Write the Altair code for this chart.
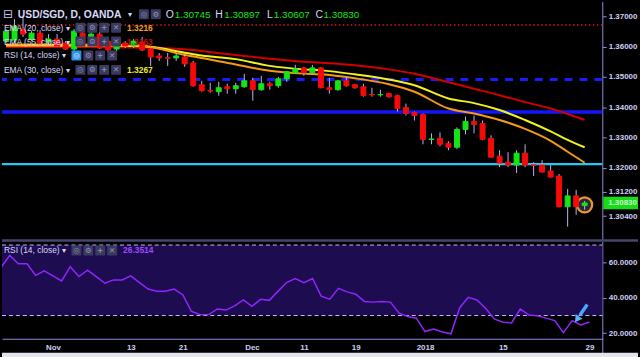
import altair as alt
import pandas as pd

# ---------------- data ----------------
opens = [1.36180, 1.36213, 1.36574, 1.36246, 1.36443, 1.36147, 1.36246, 1.36115, 1.35918, 1.36443,
         1.36082, 1.36410, 1.36180, 1.35918, 1.36115, 1.36016, 1.36147, 1.35918, 1.35689, 1.35630,
         1.35623, 1.35656, 1.35459, 1.34738, 1.34545, 1.34508, 1.34672, 1.34607, 1.34672, 1.34869,
         1.34574, 1.34770, 1.34705, 1.34934, 1.35131, 1.35295, 1.35131, 1.35295, 1.34639, 1.34574,
         1.34869, 1.34738, 1.34672, 1.34415, 1.34405, 1.34443, 1.34377, 1.33984, 1.33820, 1.33754,
         1.32930, 1.32967, 1.32803, 1.32672, 1.33262, 1.33525, 1.33459, 1.32967, 1.32377, 1.32180,
         1.32082, 1.32475, 1.32090, 1.32082, 1.31885, 1.31721, 1.30705, 1.31065, 1.30745]
closes = [1.36508, 1.36672, 1.36410, 1.36443, 1.36115, 1.36246, 1.36016, 1.35918, 1.36508, 1.36082,
          1.36410, 1.35951, 1.35885, 1.36082, 1.36016, 1.36180, 1.35885, 1.35656, 1.35623, 1.35610,
          1.35689, 1.35426, 1.34705, 1.34541, 1.34530, 1.34639, 1.34607, 1.34705, 1.34869, 1.34574,
          1.34770, 1.34705, 1.34934, 1.35164, 1.35262, 1.35131, 1.35295, 1.34639, 1.34574, 1.34869,
          1.34705, 1.34639, 1.34377, 1.34405, 1.34415, 1.34344, 1.33951, 1.33787, 1.33721, 1.32934,
          1.32945, 1.32770, 1.32672, 1.33262, 1.33525, 1.33426, 1.32934, 1.32344, 1.32148, 1.32082,
          1.32475, 1.32082, 1.32075, 1.31852, 1.31688, 1.30705, 1.31065, 1.30705, 1.30830]
highs = [1.36574, 1.36902, 1.37033, 1.36508, 1.36541, 1.36410, 1.36410, 1.36180, 1.36574, 1.36574,
         1.36508, 1.36475, 1.36246, 1.36147, 1.36180, 1.36246, 1.36312, 1.35951, 1.35787, 1.35787,
         1.35787, 1.35754, 1.35525, 1.34869, 1.34803, 1.34836, 1.34770, 1.34803, 1.35098, 1.34967,
         1.35033, 1.34836, 1.35000, 1.35197, 1.35393, 1.35328, 1.35393, 1.35328, 1.34967, 1.34880,
         1.35000, 1.34770, 1.34770, 1.34639, 1.34574, 1.34475, 1.34410, 1.34115, 1.33852, 1.33787,
         1.33131, 1.33164, 1.32869, 1.33328, 1.33688, 1.33721, 1.33557, 1.33066, 1.32574, 1.32508,
         1.32574, 1.32770, 1.32180, 1.32246, 1.32082, 1.31787, 1.31295, 1.31262, 1.30897]
lows = [1.36115, 1.36115, 1.36312, 1.36180, 1.36049, 1.36049, 1.35984, 1.35885, 1.35852, 1.36016,
        1.36016, 1.35918, 1.35820, 1.35820, 1.35951, 1.35951, 1.35852, 1.35361, 1.35525, 1.35361,
        1.35525, 1.35328, 1.34672, 1.34508, 1.34475, 1.34377, 1.34443, 1.34443, 1.34639, 1.34213,
        1.34541, 1.34574, 1.34639, 1.34836, 1.35110, 1.35033, 1.35066, 1.34620, 1.34443, 1.34541,
        1.34672, 1.34607, 1.34344, 1.34344, 1.34344, 1.34311, 1.33852, 1.33721, 1.33557, 1.32770,
        1.32770, 1.32705, 1.32574, 1.32607, 1.33098, 1.33131, 1.32902, 1.32330, 1.32016, 1.32016,
        1.31820, 1.32016, 1.31721, 1.31840, 1.31670, 1.30690, 1.30049, 1.30443, 1.30607]

rsi = [57.2, 64.1, 59.4, 59.4, 52.8, 55.3, 52.5, 49.6, 57.7, 52.1,
       55.7, 52.1, 48.3, 50.2, 50.2, 52.5, 48.7, 45.0, 43.8, 43.8,
       45.0, 41.8, 32.4, 30.5, 30.5, 33.7, 33.1, 35.5, 38.9, 35.2,
       39.2, 38.6, 43.7, 48.7, 51.0, 48.7, 51.0, 41.0, 39.3, 45.4,
       43.4, 42.1, 38.0, 37.6, 38.0, 37.6, 31.3, 29.4, 28.5, 20.9,
       22.3, 20.6, 19.6, 34.3, 40.3, 38.8, 34.1, 28.1, 26.2, 25.8,
       33.7, 30.3, 29.9, 28.5, 27.1, 20.2, 27.1, 24.7, 26.35]

ema_idx = [0, 7, 15, 17, 21, 23, 27, 31, 35, 37, 41, 45, 48, 52, 55, 58, 61, 64, 66, 68]
ema20 = [1.36066, 1.36066, 1.36049, 1.35984, 1.35721, 1.35623, 1.35410, 1.35197, 1.35105, 1.35082,
         1.34951, 1.34754, 1.34508, 1.33951, 1.33787, 1.33574, 1.33279, 1.32886, 1.32525, 1.32161]
ema30 = [1.36033, 1.36033, 1.36016, 1.35990, 1.35797, 1.35705, 1.35584, 1.35361, 1.35246, 1.35213,
         1.35082, 1.34911, 1.34721, 1.34285, 1.34131, 1.33902, 1.33574, 1.33197, 1.32918, 1.32672]
ema55 = [1.35984, 1.35984, 1.35967, 1.35957, 1.35911, 1.35852, 1.35718, 1.35600, 1.35498, 1.35465,
         1.35383, 1.35246, 1.35098, 1.34819, 1.34606, 1.34393, 1.34163, 1.33951, 1.33770, 1.33574]

level_red_dotted = 1.3671
level_blue_dashed = 1.3491
level_blue_solid = 1.33836
level_cyan = 1.32115

price_ticks = [1.304, 1.312, 1.32, 1.33, 1.34, 1.35, 1.36, 1.37]
rsi_ticks = [20, 40, 60]
rsi_band = [30, 70]
time_tick_idx = [6, 15, 21, 29, 35, 41, 49, 58, 68]
time_tick_labels = ["Nov", "13", "21", "Dec", "11", "19", "2018", "15", "29"]
last_ohlc = ["1.30745", "1.30897", "1.30607", "1.30830"]
last_close = 1.30830
legend_values = {"ema20": "1.3216", "ema55": "1.3363", "ema30": "1.3267", "rsi": "26.3514"}

# ---------------- styling ----------------
W, H1, H2 = 605, 240, 98
GREEN, RED, WICK = "#14e614", "#f50a0a", "#b4b4f0"
AX, LAB = "#8c8cdc", "#cfcff5"
FONT = "Liberation Sans"

xs = alt.Scale(domain=[0.11, 69.49], nice=False, zero=False)
ys = alt.Scale(domain=[1.29623, 1.374918], nice=False, zero=False)
rs = alt.Scale(domain=[16.8, 72.0], nice=False, zero=False)

price_axis = alt.Axis(orient="right", values=price_ticks, format=".5f", grid=False, title=None,
                      labelColor=LAB, labelFontSize=8, labelFontWeight="bold", labelFont=FONT,
                      tickColor=AX, tickSize=4, domainColor=AX, labelPadding=2,
                      labelOverlap=False, labelFlush=False)
rsi_axis = alt.Axis(orient="right", values=rsi_ticks, format=".4f", grid=False, title=None,
                    labelColor=LAB, labelFontSize=8, labelFontWeight="bold", labelFont=FONT,
                    tickColor=AX, tickSize=4, domainColor=AX, labelPadding=2,
                    labelOverlap=False, labelFlush=False)
idx_arr = "[" + ",".join(str(v) for v in time_tick_idx) + "]"
lab_arr = "[" + ",".join("'" + s + "'" for s in time_tick_labels) + "]"
time_axis = alt.Axis(orient="bottom", values=time_tick_idx, labelExpr=f"{lab_arr}[indexof({idx_arr}, datum.value)]",
                     grid=False, ticks=False, title=None, domainColor=AX, labelColor=LAB,
                     labelFontSize=8, labelFontWeight="bold", labelFont=FONT, labelPadding=5,
                     labelOverlap=False, labelFlush=False)


def PX(axis=None):
    return alt.X("idx:Q", scale=xs, axis=axis)


def PY(field):
    return alt.Y(field, scale=ys, axis=price_axis)


one = pd.DataFrame({"k": [0]})


def txt(s, x, y, color, size=8.5, weight="normal", align="left", font=FONT):
    return alt.Chart(one).mark_text(text=s, align=align, baseline="middle", fontSize=size,
                                    fontWeight=weight, color=color, font=font).encode(
        x=alt.value(x), y=alt.value(y))


def box(x0, y0, w, h, fill):
    return alt.Chart(one).mark_rect(color=fill, cornerRadius=1).encode(
        x=alt.value(x0), x2=alt.value(x0 + w), y=alt.value(y0), y2=alt.value(y0 + h))


def icons(x0, yc, step=12, highlight=False):
    out = []
    glyphs = ["◎", "⚙", "+", "✕"]
    for j, g in enumerate(glyphs):
        fill = "#2f8fe6" if (highlight and j == 0) else "#3a3a5e"
        col = "#e8f4ff" if (highlight and j == 0) else "#9090b8"
        out.append(box(x0 + j * step, yc - 5, 10, 10, fill))
        out.append(txt(g, x0 + j * step + 5, yc + 0.5, col, size=7.5, weight="bold",
                       align="center", font="DejaVu Sans"))
    return out


# ---------------- price panel ----------------
cdf = pd.DataFrame({"idx": list(range(len(opens))), "o": opens, "h": highs, "l": lows, "c": closes})
edf = pd.DataFrame({"idx": ema_idx, "e20": ema20, "e30": ema30, "e55": ema55})

levels = []
for val, col, w, dash in [(level_red_dotted, "#d01818", 1.5, [1.5, 2.5]),
                          (level_blue_dashed, "#1a1aff", 3, [8, 7]),
                          (level_blue_solid, "#1018f5", 3.5, None),
                          (level_cyan, "#22c8f2", 2.2, None)]:
    kw = dict(color=col, strokeWidth=w)
    if dash:
        kw["strokeDash"] = dash
    levels.append(alt.Chart(pd.DataFrame({"v": [val]})).mark_rule(**kw).encode(y=PY("v:Q")))

ema_layers = []
for f, col in [("e55", "#d00000"), ("e30", "#f2f21e"), ("e20", "#f59a14")]:
    ema_layers.append(alt.Chart(edf).mark_line(color=col, strokeWidth=2, clip=True,
                                               interpolate="monotone").encode(x=PX(), y=PY(f + ":Q")))

circle = alt.Chart(pd.DataFrame({"idx": [68], "v": [1.30770]})).mark_point(
    shape="circle", size=230, filled=False, stroke="#e89a2c", strokeWidth=2.2,
    fill="#3a3a55", fillOpacity=0.7).encode(x=PX(), y=PY("v:Q"))

wicks = alt.Chart(cdf).mark_rule(color=WICK, strokeWidth=1, clip=True).encode(
    x=PX(), y=PY("h:Q"), y2="l:Q")
bodies = alt.Chart(cdf).mark_bar(size=5, strokeWidth=1, clip=True).encode(
    x=PX(), y=PY("o:Q"), y2="c:Q",
    color=alt.condition("datum.c >= datum.o", alt.value(GREEN), alt.value(RED)),
    stroke=alt.condition("datum.c >= datum.o", alt.value(GREEN), alt.value(RED)))

lc = pd.DataFrame({"c": [last_close]})
price_box = alt.Chart(lc).transform_calculate(t="datum.c + 0.0021", b="datum.c - 0.0021").mark_rect(
    color="#18dc18").encode(x=alt.value(606), x2=alt.value(641), y=PY("t:Q"), y2="b:Q")
price_lab = alt.Chart(lc).mark_text(text=last_ohlc[3], align="left", baseline="middle", fontSize=8,
                                    fontWeight="bold", font=FONT, color="#c8f8c8").encode(
    x=alt.value(611), y=PY("c:Q"))

deco = [
    txt("⊟", 1, 13, "#c8c8f0", size=12, font="DejaVu Sans"),
    txt("USD/SGD, D, OANDA", 16, 13.5, "#d8d8fa", size=10.4, weight="bold"),
    txt("▾", 127, 13.5, "#d8d8fa", size=8, font="DejaVu Sans"),
    box(138, 8, 10, 10, "#3a3a5e"), box(150, 8, 10, 10, "#3a3a5e"),
    txt("◎", 143, 13.5, "#9090b8", size=7.5, align="center", font="DejaVu Sans"),
    txt("⚙", 155, 13.5, "#9090b8", size=7.5, align="center", font="DejaVu Sans"),
    txt("O", 165, 13.5, "#d8d8fa", size=10.5), txt(last_ohlc[0], 174, 13.5, GREEN, size=10),
    txt("H", 215, 13.5, "#d8d8fa", size=10.5), txt(last_ohlc[1], 224, 13.5, GREEN, size=10),
    txt("L", 267, 13.5, "#d8d8fa", size=10.5), txt(last_ohlc[2], 274, 13.5, GREEN, size=10),
    txt("C", 316, 13.5, "#d8d8fa", size=10.5), txt(last_ohlc[3], 324, 13.5, GREEN, size=10),
    txt("EMA (20, close) ▾", 2, 26.5, "#d8d8fa"),
    txt(legend_values["ema20"], 126, 26.5, "#f5a020", weight="bold"),
    txt("EMA (55, close) ▾", 2, 40.5, "#d8d8fa"),
    txt(legend_values["ema55"], 126, 40.5, "#b81010", weight="bold"),
    txt("RSI (14, close) ▾", 2, 54.5, "#d8d8fa"),
    txt("EMA (30, close) ▾", 2, 69, "#d8d8fa"),
    txt(legend_values["ema30"], 126, 69, "#ecec30", weight="bold"),
]
deco += icons(74, 26.5) + icons(74, 40.5) + icons(70, 54.5, highlight=True) + icons(74, 69)

price = alt.layer(*levels, *ema_layers, circle, wicks, bodies, price_box, price_lab, *deco).properties(
    width=W, height=H1)

# ---------------- RSI panel ----------------
rdf = pd.DataFrame({"idx": list(range(len(rsi))), "r": rsi})
band = alt.Chart(pd.DataFrame({"lo": [rsi_band[0]], "hi": [rsi_band[1]]})).mark_rect(color="#1d0c4f").encode(
    x=alt.value(0), x2=alt.value(W), y=alt.Y("hi:Q", scale=rs, axis=rsi_axis), y2="lo:Q")
band_lines = alt.Chart(pd.DataFrame({"v": rsi_band})).mark_rule(
    color="#c8b8f5", strokeWidth=1, strokeDash=[4, 3]).encode(
    x=alt.value(0), x2=alt.value(W), y=alt.Y("v:Q", scale=rs, axis=rsi_axis))
rsi_line = alt.Chart(rdf).mark_line(color="#9224ff", strokeWidth=1.5, clip=True).encode(
    x=PX(time_axis), y=alt.Y("r:Q", scale=rs, axis=rsi_axis))

arrow_shaft = alt.Chart(pd.DataFrame({"idx": [67.75], "i2": [66.9], "a": [36.2], "b": [30.2]})).mark_rule(
    color="#4aa6ff", strokeWidth=3.5).encode(x=PX(time_axis), x2="i2:Q",
                                            y=alt.Y("a:Q", scale=rs, axis=rsi_axis), y2="b:Q")
arrow_head = alt.Chart(pd.DataFrame({"idx": [66.65], "a": [28.4]})).mark_point(
    shape="triangle", filled=True, size=70, angle=214, color="#5ab0ff", opacity=1).encode(
    x=PX(time_axis), y=alt.Y("a:Q", scale=rs, axis=rsi_axis))

sep = alt.Chart(one).mark_rule(color="#454570", strokeWidth=2.5).encode(
    x=alt.value(0), x2=alt.value(641), y=alt.value(-1), y2=alt.value(-1))
vline = alt.Chart(one).mark_rule(color=AX, strokeWidth=1).encode(
    x=alt.value(W + 0.5), x2=alt.value(W + 0.5), y=alt.value(H2), y2=alt.value(H2 + 20))
strip = alt.Chart(one).mark_rect(color="#e4e4ec").encode(
    x=alt.value(0), x2=alt.value(641), y=alt.value(H2 + 14), y2=alt.value(H2 + 20))

rsi_deco = [txt("RSI (14, close) ▾", 2, 9, "#d8d8fa"),
            txt(legend_values["rsi"], 122, 9, "#a048ff", weight="bold")]
rsi_deco += icons(70, 9)

rsi_panel = alt.layer(band, band_lines, rsi_line, arrow_shaft, arrow_head, sep, vline, strip,
                      *rsi_deco).properties(width=W, height=H2)

chart = alt.vconcat(price, rsi_panel, spacing=2, bounds="flush").properties(
    padding=0, background="#000000").configure_view(stroke=None)

chart.save("out.html", embed_options={"renderer": "svg", "actions": False})
